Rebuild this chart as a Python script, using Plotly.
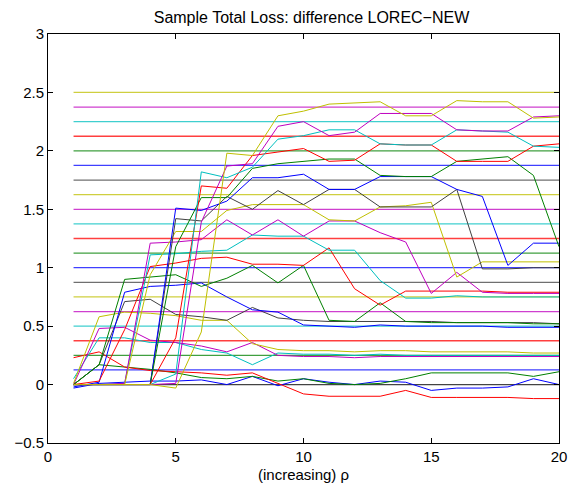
import plotly.graph_objects as go

x_vals = list(range(1, 21))

levels = [0.0, 0.125, 0.25, 0.375, 0.5, 0.625, 0.75, 0.875, 1.0, 1.125, 1.25,
          1.375, 1.5, 1.625, 1.75, 1.875, 2.0, 2.125, 2.25, 2.375, 2.5]

s00 = [0.0, 0.0, 0.0, 0.0, 0.0, 0.0, 0.0, 0.0, 0.0, 0.0, 0.0, 0.0, 0.0, 0.0, 0.0, 0.0, 0.0, 0.0, 0.0, 0.0]
s01 = [-0.03, 0.01, 0.02, 0.03, 0.03, 0.04, 0.0, 0.07, -0.01, 0.05, 0.02, 0.0, 0.03, 0.02, -0.05, -0.03, -0.03, -0.02, 0.05, 0.0]
s02 = [0.0, 0.17, 0.15, 0.13, 0.10, 0.06, 0.05, 0.07, 0.03, 0.05, 0.01, 0.0, 0.01, 0.05, 0.10, 0.10, 0.10, 0.10, 0.07, 0.11]
s03 = [0.23, 0.28, 0.15, 0.12, 0.11, 0.10, 0.08, 0.10, 0.01, -0.08, -0.10, -0.10, -0.10, -0.05, -0.11, -0.11, -0.11, -0.11, -0.12, -0.12]
s04 = [0.05, 0.40, 0.40, 0.36, 0.36, 0.30, 0.27, 0.17, 0.27, 0.26, 0.26, 0.25, 0.26, 0.25, 0.25, 0.25, 0.25, 0.25, 0.25, 0.25]
s05 = [0.0, 0.48, 0.49, 0.38, 0.36, 0.33, 0.28, 0.36, 0.25, 0.24, 0.24, 0.23, 0.24, 0.24, 0.24, 0.24, 0.24, 0.24, 0.24, 0.24]
s06 = [0.01, 0.58, 0.62, 0.61, 0.59, 0.55, 0.55, 0.35, 0.30, 0.29, 0.29, 0.28, 0.29, 0.29, 0.28, 0.28, 0.28, 0.28, 0.27, 0.27]
s07 = [0.0, 0.17, 0.71, 0.73, 0.60, 0.58, 0.55, 0.66, 0.57, 0.55, 0.54, 0.54, 0.54, 0.54, 0.54, 0.53, 0.53, 0.53, 0.53, 0.52]
s08 = [-0.02, 0.02, 0.79, 0.84, 0.85, 0.87, 0.75, 0.64, 0.62, 0.51, 0.50, 0.49, 0.51, 0.50, 0.50, 0.50, 0.50, 0.49, 0.49, 0.49]
s09 = [0.0, 0.17, 0.90, 0.92, 0.94, 0.84, 0.91, 1.02, 0.87, 1.02, 0.55, 0.54, 0.70, 0.54, 0.53, 0.53, 0.53, 0.53, 0.52, 0.52]
s10 = [0.0, 0.03, 0.47, 1.01, 1.04, 1.08, 1.09, 1.03, 1.03, 1.02, 1.17, 0.82, 0.68, 0.80, 0.80, 0.80, 0.80, 0.79, 0.79, 0.79]
s11 = [0.0, 0.0, 0.01, 1.11, 1.12, 1.14, 1.15, 1.28, 1.27, 1.27, 1.15, 1.15, 0.89, 0.74, 0.74, 0.76, 0.75, 0.75, 0.75, 0.75]
s12 = [0.0, 0.0, 0.01, 1.21, 1.22, 1.24, 1.41, 1.28, 1.41, 1.27, 1.40, 1.40, 1.30, 1.22, 0.78, 0.96, 0.79, 0.78, 0.78, 0.78]
s13 = [0.0, 0.0, 0.0, 0.94, 1.31, 1.31, 1.49, 1.54, 1.54, 1.54, 1.41, 1.40, 1.52, 1.53, 1.56, 0.92, 1.05, 1.05, 1.05, 1.05]
s14 = [0.0, 0.0, 0.0, 0.0, 1.42, 1.40, 1.61, 1.50, 1.66, 1.54, 1.67, 1.67, 1.52, 1.52, 1.52, 1.67, 0.99, 0.99, 1.00, 1.00]
s15 = [0.0, 0.0, 0.0, 0.0, 1.51, 1.49, 1.57, 1.77, 1.77, 1.80, 1.67, 1.67, 1.78, 1.78, 1.78, 1.67, 1.61, 1.02, 1.21, 1.21]
s16 = [0.0, 0.0, 0.0, 0.0, 1.18, 1.60, 1.60, 1.85, 1.89, 1.91, 1.93, 1.93, 1.79, 1.78, 1.78, 1.91, 1.93, 1.95, 1.79, 1.18]
s17 = [0.0, 0.0, 0.0, 0.0, 0.40, 1.70, 1.68, 1.96, 1.99, 2.02, 1.91, 1.92, 2.06, 2.05, 2.05, 1.91, 1.91, 1.91, 2.04, 2.06]
s18 = [0.0, 0.0, 0.0, 0.0, 0.09, 1.82, 1.77, 1.86, 2.10, 2.13, 2.18, 2.18, 2.06, 2.05, 2.05, 2.18, 2.17, 2.16, 2.04, 2.03]
s19 = [0.0, 0.0, 0.0, 0.0, 0.01, 1.39, 1.87, 1.89, 2.21, 2.25, 2.13, 2.16, 2.32, 2.32, 2.32, 2.18, 2.17, 2.17, 2.29, 2.30]
s20 = [0.0, 0.0, 0.0, 0.0, -0.03, 0.45, 1.98, 1.96, 2.30, 2.34, 2.40, 2.41, 2.42, 2.30, 2.30, 2.43, 2.42, 2.42, 2.28, 2.29]

series = [s00, s01, s02, s03, s04, s05, s06, s07, s08, s09, s10,
          s11, s12, s13, s14, s15, s16, s17, s18, s19, s20]

# MATLAB colour cycle b g r c m y k
cycle = ["#0000FF", "#008000", "#FF0000", "#00BFBF", "#BF00BF", "#BFBF00", "#404040"]

x_ticks = [0, 5, 10, 15, 20]
y_ticks = [-0.5, 0, 0.5, 1, 1.5, 2, 2.5, 3]

fig = go.Figure()
for k, (lev, ser) in enumerate(zip(levels, series)):
    col = cycle[(k - 1) % 7]
    fig.add_trace(go.Scatter(x=[x_vals[0], x_vals[-1]], y=[lev, lev], mode="lines",
                             line=dict(color=col, width=1.3), opacity=0.75,
                             hoverinfo="skip", showlegend=False))
    fig.add_trace(go.Scatter(x=x_vals, y=ser, mode="lines",
                             line=dict(color=col, width=1),
                             hoverinfo="skip", showlegend=False))

font_family = "Liberation Sans, Arial, Helvetica, sans-serif"
plot_top, plot_bottom = 34, 443
fig.update_layout(
    width=576, height=488,
    margin=dict(l=48, r=9, t=plot_top, b=488 - plot_bottom),
    paper_bgcolor="white", plot_bgcolor="white",
    font=dict(family=font_family, size=15, color="black"),
    title=dict(text="Sample Total Loss: difference LOREC\u2212NEW", x=311.5 / 576, xanchor="center",
               y=1 - 17 / 488, yanchor="middle", font=dict(size=16)),
    showlegend=False,
    annotations=[dict(text="(increasing) \u03c1", xref="paper", yref="paper",
                      x=0.5, y=-(474 - plot_bottom) / (plot_bottom - plot_top),
                      xanchor="center", yanchor="middle", showarrow=False,
                      font=dict(size=15))],
)
fig.update_xaxes(range=[0, 20], tickvals=x_ticks, ticks="inside", ticklen=5,
                 showline=True, linecolor="black", linewidth=1, mirror="ticks",
                 showgrid=False, zeroline=False, tickcolor="black")
fig.update_yaxes(range=[-0.5, 3], tickvals=y_ticks, ticks="inside", ticklen=5,
                 showline=True, linecolor="black", linewidth=1, mirror="ticks",
                 showgrid=False, zeroline=False, tickcolor="black")

fig.write_html("out.html")
